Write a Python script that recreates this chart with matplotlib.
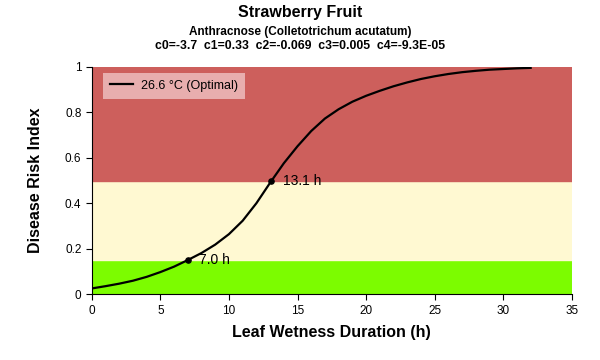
import matplotlib.pyplot as plt
import numpy as np

plt.rcParams['font.family'] = ['Liberation Sans', 'DejaVu Sans']

# leaf wetness duration (h) and disease risk index
hours = [0, 1, 2, 3, 4, 5, 6, 7, 8, 9, 10, 11, 12, 13, 14, 15, 16,
         17, 18, 19, 20, 21, 22, 23, 24, 25, 26, 27, 28, 29, 30, 31, 32]
risk = [0.025, 0.035, 0.046, 0.059, 0.076, 0.097, 0.121, 0.15, 0.181,
        0.218, 0.264, 0.323, 0.400, 0.490, 0.576, 0.651, 0.718, 0.773, 0.814,
        0.847, 0.873, 0.895, 0.915, 0.932, 0.947, 0.959, 0.969, 0.977, 0.983,
        0.988, 0.991, 0.994, 0.996]

# marked thresholds
mark_hours = [7.0, 13.1]
mark_risk = [0.15, 0.5]

# risk bands
band_low = 0.15
band_mid = 0.5

fig = plt.figure(figsize=(6, 3.6), dpi=100)
ax = fig.add_axes([0.153, 0.183, 0.80, 0.631])

ax.axhspan(0, band_low, color='#7CFC00', zorder=0)
ax.axhspan(band_low, band_mid, color='#FFF9D2', zorder=0)
ax.axhspan(band_mid, 1, color='#CD5F5C', zorder=0)

ax.plot(hours, risk, color='black', lw=1.6, label='26.6 °C (Optimal)', zorder=3,
        solid_joinstyle='round')
ax.scatter(mark_hours, mark_risk, color='black', s=14, zorder=4)
for h, r in zip(mark_hours, mark_risk):
    ax.text(h + 0.85, r, '%.1f h' % h, va='center', ha='left', fontsize=10, zorder=5)

ax.set_xlim(0, 35)
ax.set_ylim(0, 1)
ax.set_xticks(np.arange(0, 36, 5))
ax.set_yticks([0, 0.2, 0.4, 0.6, 0.8, 1])
ax.set_yticklabels(['0', '0.2', '0.4', '0.6', '0.8', '1'])
ax.tick_params(direction='out', length=4, labelsize=8.5)
ax.spines['top'].set_visible(False)
ax.spines['right'].set_visible(False)

ax.set_xlabel('Leaf Wetness Duration (h)', fontsize=11.5, fontweight='bold', labelpad=6)
ax.set_ylabel('Disease Risk Index', fontsize=11.5, fontweight='bold', labelpad=16)

leg = ax.legend(loc='upper left', bbox_to_anchor=(0.023, 0.974), borderaxespad=0,
                fontsize=9, frameon=True, fancybox=False,
                borderpad=0.55, handlelength=1.9, handletextpad=0.6)
leg.get_frame().set_facecolor('#E8AEAE')
leg.get_frame().set_edgecolor('none')
leg.get_frame().set_alpha(1)

fig.text(0.5, 0.965, 'Strawberry Fruit', ha='center', va='center', fontsize=11.5, fontweight='bold')
fig.text(0.5, 0.912, 'Anthracnose (Colletotrichum acutatum)', ha='center', va='center',
         fontsize=8.5, fontweight='bold')
fig.text(0.5, 0.872, 'c0=-3.7  c1=0.33  c2=-0.069  c3=0.005  c4=-9.3E-05', ha='center',
         va='center', fontsize=8.8, fontweight='bold')

fig.savefig('out.png', dpi=100)
